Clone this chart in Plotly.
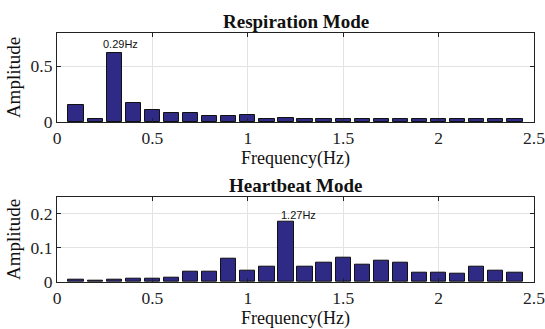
import plotly.graph_objects as go
from plotly.subplots import make_subplots

freq = [0.1, 0.2, 0.3, 0.4, 0.5, 0.6, 0.7, 0.8, 0.9, 1.0, 1.1, 1.2,
        1.3, 1.4, 1.5, 1.6, 1.7, 1.8, 1.9, 2.0, 2.1, 2.2, 2.3, 2.4]
resp_amp = [0.153, 0.023, 0.62, 0.17, 0.104, 0.082, 0.082, 0.052, 0.056, 0.065, 0.031, 0.034,
            0.025, 0.025, 0.025, 0.025, 0.025, 0.024, 0.024, 0.025, 0.024, 0.024, 0.024, 0.024]
heart_amp = [0.006, 0.004, 0.007, 0.009, 0.011, 0.012, 0.029, 0.031, 0.068, 0.033, 0.045, 0.177,
             0.046, 0.056, 0.072, 0.051, 0.063, 0.057, 0.027, 0.026, 0.023, 0.046, 0.034, 0.026]
titles = ["Respiration Mode", "Heartbeat Mode"]
peak_labels = ["0.29Hz", "1.27Hz"]
peak_pos = [(0.334, 0.70), (1.266, 0.196)]
x_ticks = [0, 0.5, 1, 1.5, 2, 2.5]
x_tick_text = ["0", "0.5", "1", "1.5", "2", "2.5"]
y_ranges = [[0, 0.8], [0, 0.25]]
y_ticks = [[0, 0.5], [0, 0.1, 0.2]]
y_tick_text = [["0", "0.5"], ["0", "0.1", "0.2"]]
x_title = "Frequency(Hz)"
y_title = "Amplitude"

BAR = "#2E2A86"
SERIF = "Liberation Serif"

fig = make_subplots(rows=2, cols=1, vertical_spacing=0.0)
for i, amp in enumerate([resp_amp, heart_amp]):
    fig.add_trace(go.Bar(x=freq, y=amp, width=0.08,
                         marker=dict(color=BAR, line=dict(color="#111111", width=1)),
                         showlegend=False), row=i + 1, col=1)

domains = [[0.6426, 1.0], [0.0, 0.3426]]
xt_shift = [-37, -36]
for i in range(2):
    xa = "xaxis" if i == 0 else "xaxis2"
    ya = "yaxis" if i == 0 else "yaxis2"
    fig.layout[xa].update(domain=[0, 1], range=[0, 2.5], tickvals=x_ticks, ticktext=x_tick_text,
                          ticks="inside", ticklen=4, tickcolor="#222", mirror="allticks",
                          showline=True, linecolor="#222", linewidth=1.2,
                          showgrid=True, gridcolor="#e3e3e3", gridwidth=1, zeroline=False,
                          ticklabeloverflow="allow", automargin=False,
                          tickfont=dict(family=SERIF, size=17.5, color="#222"))
    fig.layout[ya].update(domain=domains[i], range=y_ranges[i], tickvals=y_ticks[i],
                          ticktext=y_tick_text[i],
                          ticks="inside", ticklen=4, tickcolor="#222", mirror="allticks",
                          showline=True, linecolor="#222", linewidth=1.2,
                          showgrid=True, gridcolor="#e3e3e3", gridwidth=1, zeroline=False,
                          ticklabeloverflow="allow", automargin=False,
                          title=dict(text=y_title, standoff=4,
                                     font=dict(family=SERIF, size=19, color="#111")),
                          tickfont=dict(family=SERIF, size=17.5, color="#222"))
    xref = "x" if i == 0 else "x2"
    yref = "y" if i == 0 else "y2"
    fig.add_annotation(x=peak_pos[i][0], y=peak_pos[i][1], xref=xref, yref=yref,
                       text=peak_labels[i], showarrow=False,
                       font=dict(family="Liberation Sans", size=11, color="#111"))
    fig.add_annotation(x=0.5, y=0, xref=xref + " domain", yref=yref + " domain",
                       yanchor="middle", yshift=xt_shift[i], text=x_title, showarrow=False,
                       font=dict(family=SERIF, size=18, color="#111"))
    fig.add_annotation(x=0.5, y=1, xref=xref + " domain", yref=yref + " domain",
                       yanchor="bottom", yshift=-1, text="<b>" + titles[i] + "</b>",
                       showarrow=False, font=dict(family=SERIF, size=19, color="#111"))

fig.update_layout(width=545, height=329, margin=dict(l=57, r=11, t=33, b=47),
                  font=dict(family=SERIF),
                  plot_bgcolor="white", paper_bgcolor="white", bargap=0)
fig.write_html("out.html")
